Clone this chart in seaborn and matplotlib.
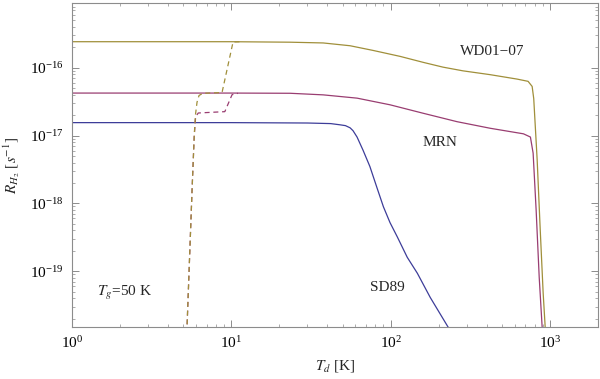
import numpy as np
import pandas as pd
import seaborn as sns
import matplotlib.pyplot as plt
from matplotlib.ticker import LogLocator, NullFormatter, FixedLocator

# curves (T_d in K, R_H2 in 1/s)
sd89_T = [1, 10, 30, 42, 48, 52, 55.6, 58, 61.5, 67, 74, 82, 90, 99, 110, 127, 147, 177, 229, 275]
sd89_R = [1.55e-17, 1.55e-17, 1.53e-17, 1.5e-17, 1.44e-17, 1.40e-17, 1.30e-17, 1.18e-17, 9.5e-18,
          6.1e-18, 3.5e-18, 1.7e-18, 8.9e-19, 5.2e-19, 3.2e-19, 1.6e-19, 9.3e-20, 4.1e-20, 1.5e-20, 8e-21]

mrn_T = [1, 10, 23.4, 37.7, 61.5, 99, 160, 261, 421, 681, 753, 783, 818, 855, 892, 918]
mrn_R = [4.23e-17, 4.23e-17, 4.2e-17, 3.98e-17, 3.56e-17, 2.84e-17, 2.13e-17, 1.6e-17, 1.28e-17,
         1.06e-17, 9.5e-18, 5.5e-18, 7.9e-19, 8.1e-20, 1.5e-20, 3.5e-21]

wd_T = [1, 10, 23.4, 37.7, 55.6, 77.5, 114.6, 160, 213, 284, 421, 621, 728, 772, 790, 830, 866, 905, 932, 955]
wd_R = [2.42e-16, 2.42e-16, 2.38e-16, 2.32e-16, 2.11e-16, 1.8e-16, 1.47e-16, 1.2e-16, 1.02e-16,
        9.0e-17, 7.9e-17, 6.8e-17, 6.3e-17, 5.3e-17, 3.5e-17, 4.4e-18, 4.5e-19, 4.8e-20, 1.5e-20, 3.5e-21]

# dashed variants at low dust temperature
mrn_d_T = [5.2, 5.27, 5.67, 5.85, 5.97, 6.2, 7.5, 9.1, 10.1, 11]
mrn_d_R = [5e-21, 1.5e-20, 1.6e-18, 1e-17, 1.9e-17, 2.15e-17, 2.2e-17, 2.25e-17, 4.0e-17, 4.2e-17]

wd_d_T = [5.2, 5.27, 5.67, 5.85, 5.95, 6.09, 6.27, 6.64, 8.74, 10.25, 11.5]
wd_d_R = [5e-21, 1.5e-20, 1.6e-18, 1e-17, 2.0e-17, 3.1e-17, 3.9e-17, 4.2e-17, 4.3e-17, 2.4e-16, 2.42e-16]

c_sd = "#3d3d99"
c_mrn = "#993d71"
c_wd = "#a08f3a"

sns.set_theme(style="ticks")
plt.rcParams['font.family'] = ['Liberation Serif', 'DejaVu Serif']
plt.rcParams['mathtext.fontset'] = 'stix'

fig = plt.figure(figsize=(6.0, 3.79), dpi=100)
ax = fig.add_axes([0.12, 0.1372, 0.8767, 0.8548])
ax.set_xscale('log')
ax.set_yscale('log')

series = [
    (sd89_T, sd89_R, c_sd, '-'),
    (mrn_T, mrn_R, c_mrn, '-'),
    (wd_T, wd_R, c_wd, '-'),
    (mrn_d_T, mrn_d_R, c_mrn, (0, (4, 3))),
    (wd_d_T, wd_d_R, c_wd, (0, (4, 3))),
]
for T, R, col, ls in series:
    df = pd.DataFrame({'T': T, 'R': R})
    sns.lineplot(data=df, x='T', y='R', color=col, lw=0.9, linestyle=ls,
                 estimator=None, sort=False, ax=ax)

ax.set_xlim(1, 2000)
ax.set_ylim(1.5e-20, 9e-16)

ax.xaxis.set_major_locator(FixedLocator([1, 10, 100, 1000]))
ax.yaxis.set_major_locator(FixedLocator([1e-19, 1e-18, 1e-17, 1e-16]))
ax.xaxis.set_minor_locator(LogLocator(base=10, subs=np.arange(2, 10)))
ax.yaxis.set_minor_locator(LogLocator(base=10, subs=np.arange(2, 10)))
ax.xaxis.set_minor_formatter(NullFormatter())
ax.yaxis.set_minor_formatter(NullFormatter())

for s in ax.spines.values():
    s.set_color('#8c8c8c')
    s.set_linewidth(0.8)
ax.tick_params(which='both', direction='in', top=True, right=True, color='#8c8c8c',
               labelsize=11, labelcolor='black')
ax.tick_params(which='major', length=5, width=0.7, pad=6)
ax.tick_params(which='minor', length=2.5, width=0.5)

ax.set_xlabel(r'$T_d$ [K]', fontsize=11, labelpad=5)
ax.set_ylabel(r'$R_{H_2}$ [$s^{-1}$]', fontsize=11, labelpad=6)

ax.text(0.798, 0.849, 'WD01\u221207', transform=ax.transAxes, ha='center', va='center', fontsize=11)
ax.text(0.70, 0.568, 'MRN', transform=ax.transAxes, ha='center', va='center', fontsize=11)
ax.text(0.599, 0.123, 'SD89', transform=ax.transAxes, ha='center', va='center', fontsize=11)
ax.text(0.048, 0.105, r'$T_g$=50 K', transform=ax.transAxes, ha='left', va='center', fontsize=11)

plt.savefig('out.png', dpi=100)
plt.close()
